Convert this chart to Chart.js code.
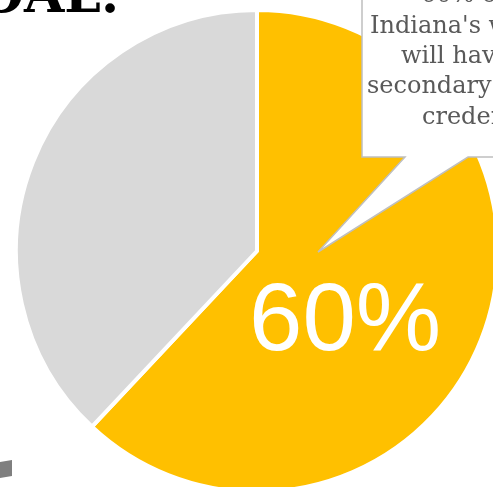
<!DOCTYPE html>
<html>
<head>
    <meta charset="utf-8">
    <script src="https://cdn.jsdelivr.net/npm/chart.js"></script>
    <style>
        html, body { margin: 0; padding: 0; background: #fff; }
        #wrap { position: relative; width: 493px; height: 487px; overflow: hidden; }
        #pie { position: absolute; left: 14px; top: 8px; }
        #over { position: absolute; left: 0; top: 0; }
    </style>
</head>
<body>
    <div id="wrap">
        <canvas id="pie" width="486" height="486"></canvas>
        <svg id="over" width="493" height="487">
            <!-- titre coupé en haut à gauche -->
            <text x="119" y="12" text-anchor="end" font-family="DejaVu Serif" font-weight="bold" font-size="52" fill="#000">GOAL.</text>
            <!-- bulle -->
            <polygon points="362,-5 362,157 405,157 318,252 468,157 500,157 500,-5"
                     fill="#fff" stroke="#BFBFBF" stroke-width="1.5" stroke-linejoin="miter"/>
            <g font-family="DejaVu Serif" font-size="24" fill="#595959">
                <text x="421" y="2">60% of</text>
                <text x="370" y="33">Indiana's workforce</text>
                <text x="401" y="63">will have a post-</text>
                <text x="367" y="93">secondary degree or</text>
                <text x="422" y="124">credential.</text>
            </g>
            <!-- label -->
            <text x="249" y="350" font-family="Liberation Sans, Arial" font-size="96" fill="#fff">60%</text>
            <!-- petit bloc gris en bas à gauche -->
            <polygon points="0,462 12,460 12,476 0,478" fill="#7F7F7F"/>
        </svg>
    </div>
    <script>
        // données
        const labels = ['Credential', 'Other'];
        const values = [62, 38];
        const colors = ['#FFC000', '#D9D9D9'];

        new Chart(document.getElementById('pie'), {
            type: 'pie',
            data: {
                labels: labels,
                datasets: [{
                    data: values,
                    backgroundColor: colors,
                    borderColor: '#ffffff',
                    borderWidth: 4
                }]
            },
            options: {
                responsive: false,
                animation: false,
                devicePixelRatio: 1,
                layout: { padding: 0 },
                plugins: {
                    legend: { display: false },
                    tooltip: { enabled: false }
                }
            }
        });
    </script>
</body>
</html>
